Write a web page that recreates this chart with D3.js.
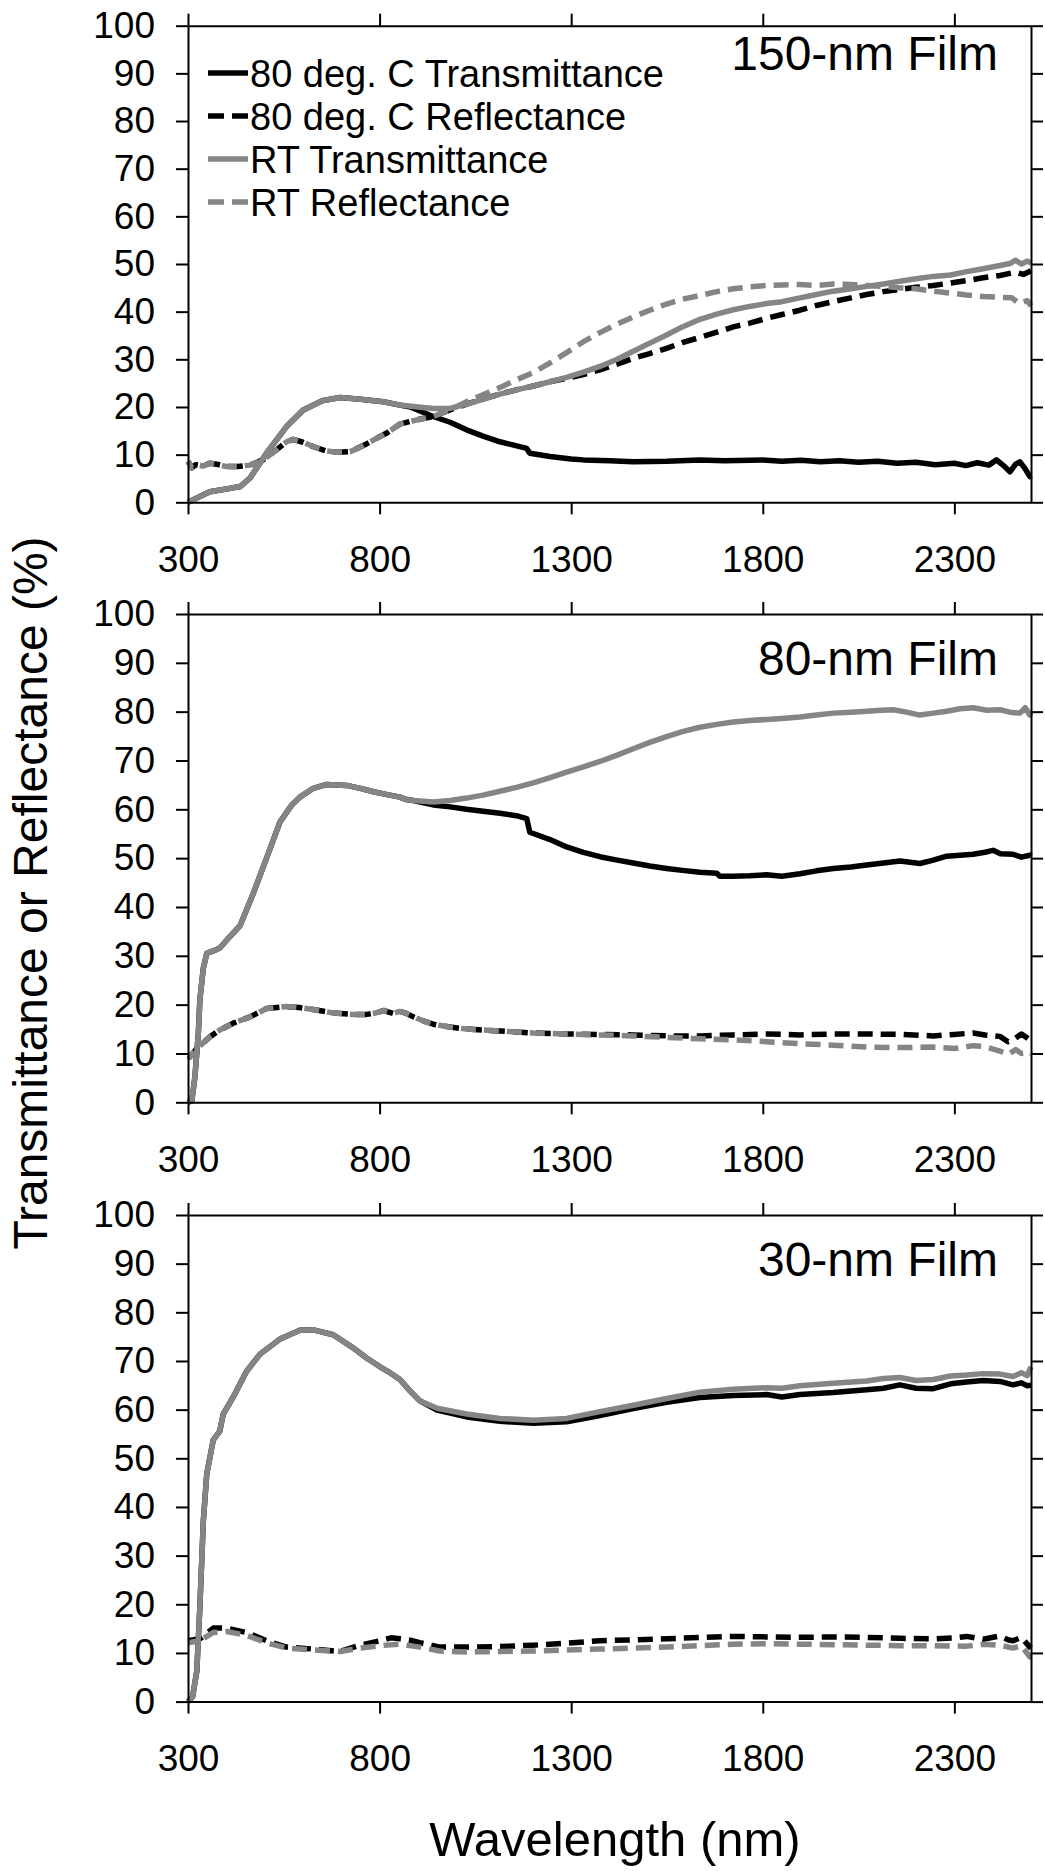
<!DOCTYPE html>
<html>
<head>
<meta charset="utf-8">
<script src="https://cdn.jsdelivr.net/npm/d3@7"></script>
<style>
  body { margin: 0; background: #fff; }
  text { font-family: "Liberation Sans", Arial, sans-serif; fill: #000; }
</style>
</head>
<body>
<script>
// wavelength (nm) vs percent
const xTicks = [300, 800, 1300, 1800, 2300];
const yTicks = [0, 10, 20, 30, 40, 50, 60, 70, 80, 90, 100];
const panelNames = ["150-nm Film", "80-nm Film", "30-nm Film"];
const seriesNames = ["80 deg. C Transmittance", "80 deg. C Reflectance", "RT Transmittance", "RT Reflectance"];

// 150-nm film
const t80_150 = [[300,0],[315,0.6],[331,1.2],[357,2.2],[400,2.8],[436,3.3],[462,5.1],[505,10.3],[557,15.9],[600,19.3],[650,21.3],[697,22],[750,21.6],[810,21.1],[853,20.4],[880,20.0],[940,18.0],[984,16.8],[1027,15.2],[1070,13.9],[1114,12.7],[1150,12.0],[1184,11.3],[1192,10.3],[1245,9.6],[1300,9.1],[1332,8.9],[1400,8.7],[1462,8.5],[1550,8.6],[1636,8.9],[1700,8.7],[1800,8.9],[1850,8.6],[1900,8.8],[1950,8.5],[2000,8.7],[2050,8.4],[2100,8.6],[2150,8.2],[2200,8.4],[2250,7.9],[2300,8.2],[2330,7.7],[2360,8.3],[2390,7.8],[2410,8.9],[2430,7.6],[2445,6.4],[2460,8.0],[2471,8.5],[2485,7.0],[2497,5.4],[2500,5.6]];
const r80_150 = [[300,8.6],[310,7.2],[320,7.9],[340,7.6],[357,8.2],[375,8.0],[400,7.5],[430,7.5],[462,7.8],[496,8.9],[531,11.0],[557,12.7],[575,13.2],[600,12.6],[630,11.6],[660,10.8],[688,10.5],[723,10.6],[760,12.0],[792,13.4],[820,14.6],[853,16.4],[897,17.3],[940,18.0],[984,19.4],[1027,20.6],[1070,21.7],[1114,22.7],[1157,23.6],[1201,24.4],[1250,25.4],[1288,26.0],[1332,26.8],[1375,27.8],[1420,29.0],[1462,30.2],[1505,31.2],[1549,32.3],[1590,33.5],[1636,34.6],[1680,35.7],[1723,36.8],[1766,37.6],[1810,38.6],[1850,39.4],[1897,40.3],[1940,41.3],[1984,42.1],[2030,42.9],[2071,43.6],[2115,44.2],[2158,44.7],[2200,45.1],[2245,45.5],[2290,46.0],[2332,46.5],[2375,47.1],[2419,47.6],[2460,48.3],[2480,47.8],[2500,48.6]];
const trt_150 = [[300,0],[315,0.6],[331,1.2],[357,2.2],[400,2.8],[436,3.3],[462,5.1],[505,10.3],[557,15.9],[600,19.3],[650,21.3],[697,22],[750,21.6],[810,21.1],[853,20.4],[900,20.0],[940,19.7],[984,19.7],[1027,20.6],[1070,21.6],[1114,22.7],[1157,23.6],[1201,24.4],[1250,25.4],[1288,26.2],[1332,27.3],[1375,28.5],[1420,30],[1462,31.7],[1505,33.4],[1549,35.1],[1590,36.8],[1636,38.4],[1680,39.5],[1723,40.4],[1766,41.1],[1810,41.7],[1850,42.1],[1897,42.9],[1940,43.6],[1984,44.3],[2030,44.8],[2071,45.3],[2115,45.8],[2158,46.4],[2200,46.9],[2245,47.4],[2290,47.7],[2332,48.4],[2375,49.0],[2419,49.7],[2445,50.1],[2460,50.8],[2475,50.0],[2490,50.6],[2500,50.2]];
const rrt_150 = [[300,8.6],[310,7.2],[320,7.9],[340,7.6],[357,8.2],[375,8.0],[400,7.5],[430,7.5],[462,7.8],[496,8.9],[531,11.0],[557,12.7],[575,13.2],[600,12.6],[630,11.6],[660,10.8],[688,10.5],[723,10.6],[760,12.0],[792,13.4],[820,14.6],[853,16.4],[897,17.3],[940,18.0],[984,19.4],[1027,21.1],[1079,22.9],[1120,24.3],[1157,25.7],[1201,27.2],[1250,29.5],[1288,31.4],[1332,33.7],[1375,35.6],[1420,37.4],[1462,38.9],[1505,40.3],[1549,41.6],[1590,42.6],[1636,43.4],[1680,44.2],[1723,44.8],[1766,45.2],[1810,45.5],[1850,45.6],[1897,45.7],[1940,45.5],[1984,45.8],[2030,45.7],[2071,45.5],[2115,45.3],[2158,45.0],[2200,44.8],[2245,44.3],[2290,43.9],[2332,43.5],[2375,43.2],[2419,43.0],[2450,42.9],[2470,41.7],[2490,42.3],[2500,41.2]];

// 80-nm film
const t80_80 = [[300,0],[310,0.3],[318,5.2],[327,14.2],[331,21],[340,27.5],[349,30.5],[366,31.0],[383,31.6],[410,34.0],[436,36.2],[470,42.7],[505,50.0],[540,57.4],[570,60.8],[592,62.5],[627,64.3],[662,65.1],[714,64.9],[750,64.3],[784,63.6],[820,63.0],[853,62.5],[870,62.0],[888,61.8],[940,60.9],[984,60.5],[1027,60.0],[1070,59.6],[1114,59.2],[1157,58.7],[1184,58.1],[1192,55.3],[1245,53.8],[1288,52.3],[1332,51.2],[1375,50.3],[1420,49.6],[1462,49.0],[1505,48.4],[1549,47.9],[1590,47.5],[1636,47.1],[1680,46.9],[1688,46.3],[1723,46.3],[1766,46.4],[1810,46.6],[1850,46.3],[1897,46.8],[1940,47.4],[1984,47.9],[2030,48.2],[2071,48.6],[2115,49.0],[2158,49.4],[2190,49.1],[2210,48.9],[2245,49.6],[2280,50.4],[2315,50.6],[2349,50.8],[2380,51.2],[2401,51.6],[2420,50.9],[2453,50.8],[2475,50.2],[2497,50.6],[2500,50.4]];
const r80_80 = [[300,9.5],[305,9.3],[323,11.0],[357,13.4],[383,14.8],[418,16.2],[462,17.5],[505,19.2],[557,19.6],[590,19.4],[627,19.0],[679,18.3],[730,18.0],[766,18.0],[790,18.3],[810,18.8],[836,18.2],[853,18.6],[870,18.2],[888,17.5],[920,16.5],[940,16.0],[984,15.4],[1027,15.0],[1114,14.6],[1201,14.2],[1288,14.0],[1375,13.9],[1462,13.8],[1549,13.6],[1636,13.6],[1723,13.8],[1810,14.0],[1897,13.8],[1984,14.0],[2071,14.0],[2158,13.9],[2245,13.6],[2300,13.9],[2349,14.2],[2380,13.8],[2419,13.5],[2440,12.4],[2453,12.8],[2475,14.0],[2497,12.8],[2500,13.0]];
const trt_80 = [[300,0],[310,0.3],[318,5.2],[327,14.2],[331,21],[340,27.5],[349,30.5],[366,31.0],[383,31.6],[410,34.0],[436,36.2],[470,42.7],[505,50.0],[540,57.4],[570,60.8],[592,62.5],[627,64.3],[662,65.1],[714,64.9],[750,64.3],[784,63.6],[820,63.0],[853,62.5],[870,62.0],[888,61.8],[940,61.5],[984,61.8],[1027,62.3],[1070,62.9],[1114,63.7],[1157,64.5],[1201,65.4],[1245,66.5],[1288,67.6],[1332,68.7],[1375,69.8],[1420,71.1],[1462,72.4],[1505,73.7],[1549,74.9],[1590,75.9],[1636,76.8],[1680,77.4],[1723,77.9],[1766,78.2],[1810,78.4],[1850,78.6],[1897,78.9],[1940,79.3],[1984,79.7],[2030,79.9],[2071,80.1],[2110,80.3],[2141,80.4],[2175,79.9],[2210,79.3],[2245,79.7],[2280,80.1],[2315,80.6],[2349,80.8],[2385,80.3],[2419,80.4],[2445,79.9],[2471,79.7],[2485,80.8],[2497,79.3],[2500,80.2]];
const rrt_80 = [[300,9.5],[305,9.3],[323,11.0],[357,13.4],[383,14.8],[418,16.2],[462,17.5],[505,19.2],[557,19.6],[590,19.4],[627,19.0],[679,18.3],[730,18.0],[766,18.0],[790,18.3],[810,18.8],[836,18.2],[853,18.6],[870,18.2],[888,17.5],[920,16.5],[940,16.0],[984,15.4],[1027,15.0],[1114,14.6],[1201,14.2],[1288,14.0],[1375,13.8],[1462,13.6],[1549,13.3],[1636,13.0],[1723,12.8],[1810,12.4],[1897,12.0],[1984,11.7],[2071,11.3],[2158,11.2],[2245,11.3],[2300,11.0],[2349,11.6],[2380,11.4],[2419,10.5],[2440,9.8],[2460,10.8],[2475,10.0],[2497,10.2],[2500,9.9]];

// 30-nm film
const t80_30 = [[300,0],[312,1],[323,6.3],[331,19.5],[340,37.1],[349,46.8],[366,53.8],[383,55.6],[392,59.1],[418,62.6],[453,67.9],[488,71.4],[540,74.5],[592,76.3],[627,76.4],[679,75.4],[731,72.7],[766,70.6],[801,68.8],[827,67.6],[853,66.2],[880,63.8],[905,61.8],[950,59.9],[1027,58.5],[1114,57.6],[1201,57.2],[1288,57.5],[1375,58.8],[1462,60.2],[1549,61.5],[1636,62.5],[1723,62.9],[1810,63.1],[1850,62.6],[1897,63.1],[1984,63.5],[2071,64.1],[2115,64.4],[2158,65.1],[2200,64.4],[2245,64.3],[2290,65.3],[2332,65.7],[2375,66.0],[2419,65.8],[2453,65.1],[2475,65.5],[2490,64.9],[2500,65.0]];
const r80_30 = [[300,12.5],[331,12.9],[366,15.1],[401,15.1],[453,14.2],[505,12.5],[557,11.2],[627,10.8],[697,10.3],[749,11.6],[801,12.5],[830,13.1],[853,12.9],[880,12.6],[905,12.1],[957,11.2],[1027,11.2],[1114,11.3],[1201,11.6],[1288,12.0],[1375,12.5],[1462,12.7],[1549,12.9],[1636,13.2],[1723,13.4],[1810,13.3],[1897,13.2],[1984,13.3],[2071,13.2],[2158,13.0],[2245,12.9],[2300,13.1],[2332,13.4],[2375,12.8],[2419,13.5],[2440,12.7],[2453,12.5],[2475,13.2],[2497,11.2],[2500,11.0]];
const trt_30 = [[300,0],[312,1],[323,6.3],[331,19.5],[340,37.1],[349,46.8],[366,53.8],[383,55.6],[392,59.1],[418,62.6],[453,67.9],[488,71.4],[540,74.5],[592,76.3],[627,76.4],[679,75.4],[731,72.7],[766,70.6],[801,68.8],[827,67.6],[853,66.2],[880,63.8],[905,61.8],[950,60.3],[1027,59.1],[1114,58.2],[1201,57.8],[1288,58.2],[1375,59.6],[1462,60.9],[1549,62.3],[1636,63.6],[1723,64.2],[1810,64.5],[1850,64.4],[1897,64.9],[1984,65.4],[2071,65.9],[2115,66.4],[2158,66.6],[2200,66.0],[2245,66.2],[2290,66.9],[2332,67.1],[2375,67.4],[2419,67.3],[2453,66.8],[2475,67.6],[2490,67.0],[2500,68.8]];
const rrt_30 = [[300,12.1],[331,12.5],[366,14.2],[401,14.4],[453,13.6],[505,12.1],[557,11.0],[627,10.6],[697,10.3],[749,11.0],[801,11.5],[853,11.8],[905,11.2],[957,10.4],[1027,10.2],[1114,10.3],[1201,10.4],[1288,10.6],[1375,10.8],[1462,11.0],[1549,11.2],[1636,11.5],[1723,11.8],[1810,11.9],[1897,11.8],[1984,11.7],[2071,11.6],[2158,11.5],[2245,11.5],[2332,11.4],[2375,11.8],[2419,11.6],[2453,11.0],[2475,11.5],[2497,9.2],[2500,9.4]];

const panelSeries = [
    [t80_150, r80_150, trt_150, rrt_150],
    [t80_80, r80_80, trt_80, rrt_80],
    [t80_30, r80_30, trt_30, rrt_30]
];

const width = 1045, height = 1871;
const black = "#000000", gray = "#858585";
const colors = [black, black, gray, gray];
const dashed = [false, true, false, true];
// top / bottom of each plot box, and baseline offset of its label
const boxes = [[25.7, 502.3], [614, 1102.3], [1215, 1701.6]];
const labelDrop = [44, 61, 61];

const svg = d3.select("body").append("svg")
    .attr("width", width)
    .attr("height", height)
    .attr("viewBox", [0, 0, width, height]);

const x = d3.scaleLinear().domain([300, 2500]).range([188, 1031]);

boxes.forEach((b, p) => {
    const y = d3.scaleLinear().domain([0, 100]).range([b[1], b[0]]);
    const g = svg.append("g");

    const line = d3.line()
        .x(d => x(d[0]))
        .y(d => y(d[1]));

    panelSeries[p].forEach((s, i) => {
        g.append("path")
            .datum(s)
            .attr("d", line)
            .attr("fill", "none")
            .attr("stroke", colors[i])
            .attr("stroke-width", 5.5)
            .attr("stroke-linejoin", "round")
            .attr("stroke-dasharray", dashed[i] ? "15,8" : null)
            .attr("stroke-dashoffset", i == 3 ? 6 : 0);
    });

    // frame with outward ticks on all four sides
    const axB = g.append("g").attr("transform", `translate(0,${b[1]})`)
        .call(d3.axisBottom(x).tickValues(xTicks).tickSize(12).tickSizeOuter(0)
            .tickPadding(31).tickFormat(d3.format("d")));
    const axT = g.append("g").attr("transform", `translate(0,${b[0]})`)
        .call(d3.axisTop(x).tickValues(xTicks).tickSize(12).tickSizeOuter(0).tickFormat(""));
    const axL = g.append("g").attr("transform", `translate(${x(300)},0)`)
        .call(d3.axisLeft(y).tickValues(yTicks).tickSize(12).tickSizeOuter(0).tickPadding(21));
    const axR = g.append("g").attr("transform", `translate(${x(2500)},0)`)
        .call(d3.axisRight(y).tickValues(yTicks).tickSize(12).tickSizeOuter(0).tickFormat(""));

    [axB, axT, axL, axR].forEach(a => {
        a.attr("font-family", null).attr("font-size", 37);
        a.selectAll("path, line").attr("stroke", "#000").attr("stroke-width", 2);
        a.selectAll("text").attr("fill", "#000");
    });

    g.append("text")
        .attr("x", 998)
        .attr("y", b[0] + labelDrop[p])
        .attr("text-anchor", "end")
        .attr("font-size", 48)
        .text(panelNames[p]);
});

// legend in the top panel
const leg = svg.append("g");
seriesNames.forEach((name, i) => {
    const ly = 73 + i * 43;
    leg.append("line")
        .attr("x1", 208).attr("x2", 248)
        .attr("y1", ly).attr("y2", ly)
        .attr("stroke", colors[i])
        .attr("stroke-width", 5.5)
        .attr("stroke-dasharray", dashed[i] ? "16,8" : null);
    leg.append("text")
        .attr("x", 250)
        .attr("y", ly)
        .attr("dy", "0.36em")
        .attr("font-size", 38)
        .text(name);
});

svg.append("text")
    .attr("transform", "translate(47,893) rotate(-90)")
    .attr("text-anchor", "middle")
    .attr("font-size", 48)
    .text("Transmittance or Reflectance (%)");

svg.append("text")
    .attr("x", 615)
    .attr("y", 1856)
    .attr("text-anchor", "middle")
    .attr("font-size", 49)
    .text("Wavelength (nm)");
</script>
</body>
</html>
